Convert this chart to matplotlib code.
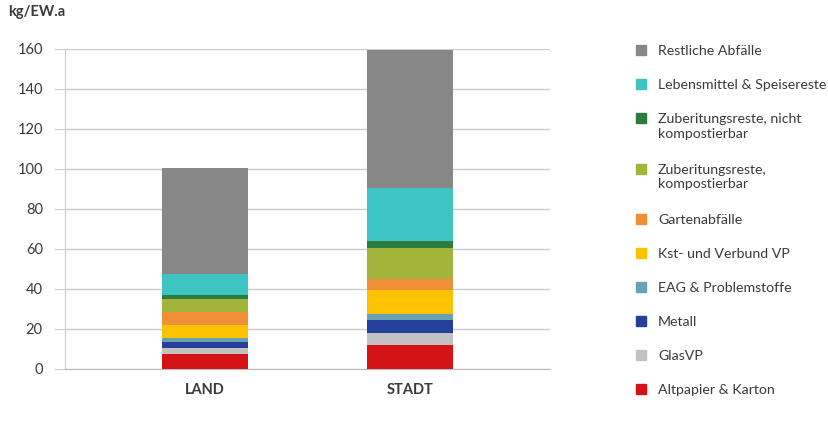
import matplotlib.pyplot as plt
from matplotlib.patches import Rectangle

plt.rcParams['font.family'] = ['Lato', 'DejaVu Sans']

regions = ["LAND", "STADT"]
# stacked from bottom to top
categories = [
    "Altpapier & Karton",
    "GlasVP",
    "Metall",
    "EAG & Problemstoffe",
    "Kst- und Verbund VP",
    "Gartenabfälle",
    "Zuberitungsreste,\nkompostierbar",
    "Zuberitungsreste, nicht\nkompostierbar",
    "Lebensmittel & Speisereste",
    "Restliche Abfälle",
]
land = [7.6, 2.7, 3.2, 1.8, 6.7, 6.3, 6.5, 2.2, 10.5, 53.0]
stadt = [12.2, 6.0, 6.3, 3.0, 12.0, 5.3, 15.7, 3.7, 26.1, 69.2]
colors = ["#d41317", "#c2c2c2", "#24409a", "#68a1b3", "#fbc200",
          "#f08f37", "#a2b53a", "#2a7d3f", "#3fc4c4", "#878787"]

W, H = 829, 422
fig = plt.figure(figsize=(W / 100, H / 100), dpi=100)
ax = fig.add_axes([65 / W, 1 - 369 / H, (550 - 65) / W, (369 - 49) / H])

x = range(len(regions))
bottom = [0, 0]
for i, cat in enumerate(categories):
    vals = [land[i], stadt[i]]
    ax.bar(x, vals, width=0.415, bottom=bottom, color=colors[i], zorder=3)
    bottom = [b + v for b, v in zip(bottom, vals)]

txt = "#3a3a3a"
ax.set_xlim(-0.683, 1.683)
ax.set_ylim(0, 160)
ax.set_yticks(range(0, 161, 20))
ax.yaxis.grid(True, color="#cccccc", lw=1, zorder=0)
ax.set_xticks(list(x))
ax.set_xticklabels(regions, fontweight="bold", fontsize=10.5, color=txt)
for s in ["top", "right"]:
    ax.spines[s].set_visible(False)
ax.spines["left"].set_color("#cccccc")
ax.spines["bottom"].set_color("#bbbbbb")
ax.tick_params(axis="y", length=8, color="#cccccc", labelsize=10.5, labelcolor=txt, pad=8)
ax.tick_params(axis="x", length=0, pad=10)

fig.text(8 / W, 1 - 12 / H, "kg/EW.a", fontweight="bold", fontsize=10.5,
         color=txt, va="center", ha="left")

# legend, top to bottom
ypix = 50
for i in reversed(range(len(categories))):
    fig.patches.append(Rectangle((636 / W, 1 - (ypix + 5) / H), 10 / W, 10 / H,
                                 transform=fig.transFigure, color=colors[i]))
    fig.text(658 / W, 1 - (ypix - 5) / H, categories[i], fontsize=10.2, color=txt,
             va="top", ha="left", linespacing=1.25)
    ypix += 34 + 16.5 * categories[i].count("\n")

fig.savefig("out.png", dpi=100)
